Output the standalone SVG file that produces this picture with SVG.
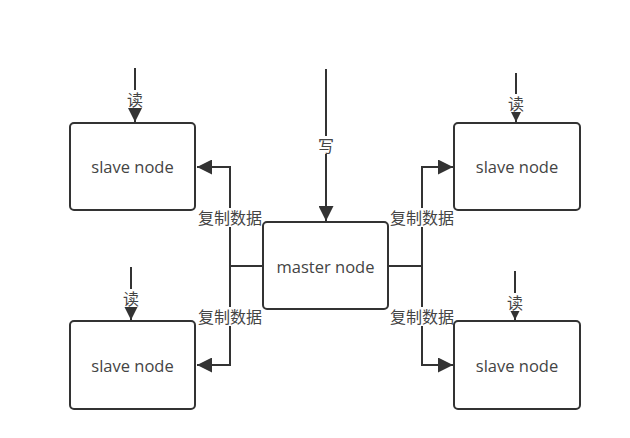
<svg xmlns="http://www.w3.org/2000/svg" width="630" height="438" viewBox="0 0 630 438">
<style>
.box{fill:#fff;stroke:#333;stroke-width:2}
.t{font-family:"Open Sans","Noto Sans CJK SC",sans-serif;font-size:16.5px;fill:#444;text-anchor:middle;dominant-baseline:central}
.lbl{font-family:"Noto Sans CJK SC",sans-serif;font-size:16px;fill:#444;text-anchor:middle;dominant-baseline:central}
.c{fill:none;stroke:#333;stroke-width:2}
.bg{fill:#fff}
</style>
<defs>
<marker id="ah" viewBox="0 0 10 10" refX="10" refY="5" markerWidth="7.5" markerHeight="7.5" markerUnits="strokeWidth" orient="auto">
<path d="M0,0 L10,5 L0,10 z" fill="#333"/>
</marker>
</defs>
<rect width="630" height="438" fill="#fff"/>
<g id="connectors">
<path class="c" d="M135,68 V122" marker-end="url(#ah)"/>
<path class="c" d="M131,267 V320" marker-end="url(#ah)"/>
<path class="c" d="M516,73 V122" marker-end="url(#ah)"/>
<path class="c" d="M515,271 V320" marker-end="url(#ah)"/>
<path class="c" d="M326,69 V221" marker-end="url(#ah)"/>
<path class="c" d="M263,266 H230"/>
<path class="c" d="M230,266 V167 H197" marker-end="url(#ah)"/>
<path class="c" d="M230,266 V365 H197" marker-end="url(#ah)"/>
<path class="c" d="M388,266 H422"/>
<path class="c" d="M422,266 V167 H453" marker-end="url(#ah)"/>
<path class="c" d="M422,266 V365 H453" marker-end="url(#ah)"/>
<rect class="bg" x="127" y="90" width="16" height="18"/>
<text class="lbl" x="135" y="99">读</text>
<rect class="bg" x="123" y="289" width="16" height="18"/>
<text class="lbl" x="131" y="298">读</text>
<rect class="bg" x="508" y="94" width="16" height="18"/>
<text class="lbl" x="516" y="103">读</text>
<rect class="bg" x="507" y="293" width="16" height="18"/>
<text class="lbl" x="515" y="302">读</text>
<rect class="bg" x="318" y="136" width="16" height="18"/>
<text class="lbl" x="326" y="145">写</text>
<rect class="bg" x="196" y="208" width="68" height="19"/>
<text class="lbl" x="230" y="217">复制数据</text>
<rect class="bg" x="196" y="307" width="68" height="19"/>
<text class="lbl" x="230" y="316">复制数据</text>
<rect class="bg" x="388" y="208" width="68" height="19"/>
<text class="lbl" x="422" y="217">复制数据</text>
<rect class="bg" x="388" y="307" width="68" height="19"/>
<text class="lbl" x="422" y="316">复制数据</text>
</g>
<g id="slave-tl">
<rect class="box" x="70" y="123" width="125" height="87" rx="4"/>
<text class="t" x="132.5" y="166.5">slave node</text>
</g>
<g id="slave-bl">
<rect class="box" x="70" y="321" width="125" height="88" rx="4"/>
<text class="t" x="132.5" y="365">slave node</text>
</g>
<g id="slave-tr">
<rect class="box" x="454" y="123" width="126" height="87" rx="4"/>
<text class="t" x="517" y="166.5">slave node</text>
</g>
<g id="slave-br">
<rect class="box" x="454" y="321" width="126" height="88" rx="4"/>
<text class="t" x="517" y="365">slave node</text>
</g>
<g id="master">
<rect class="box" x="263" y="222" width="125" height="87" rx="4"/>
<text class="t" x="325.5" y="266">master node</text>
</g>
</svg>
